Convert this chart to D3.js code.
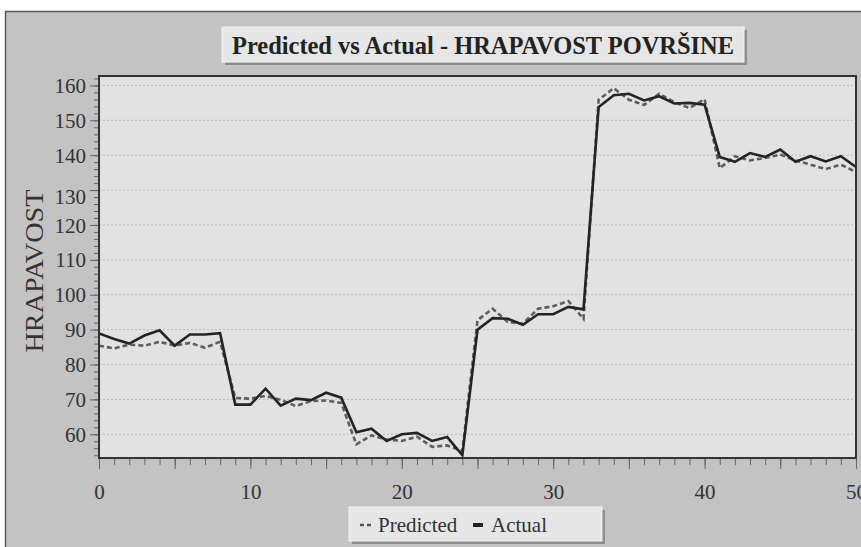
<!DOCTYPE html>
<html><head><meta charset="utf-8">
<script src="https://cdn.jsdelivr.net/npm/d3@7/dist/d3.min.js"></script>
<style>
html,body{margin:0;padding:0;background:#fff;}
svg{display:block;}
svg text{font-family:"Liberation Serif","Times New Roman",serif !important;}
</style></head><body>
<svg id="chart" width="861" height="547"></svg>
<script>
const xValues = d3.range(0, 51);
const actual = [88.9,87.3,86.0,88.3,89.8,85.4,88.6,88.6,89.0,68.5,
  68.5,73.1,68.2,70.2,69.8,71.9,70.5,60.6,61.6,58.1,
  60.0,60.4,58.1,59.2,54.0,90.0,93.3,93.1,91.4,94.4,
  94.4,96.5,95.8,153.8,157.2,157.6,155.7,156.9,154.8,155.0,
  154.5,139.5,138.1,140.6,139.5,141.6,138.1,139.7,138.2,139.7,136.6];
const predicted = [85.4,84.6,85.7,85.4,86.5,85.4,86.2,84.8,86.5,70.4,
  70.2,71.0,69.9,68.1,69.5,69.7,69.0,57.1,59.7,58.5,
  58.1,59.3,56.4,56.8,55.2,92.7,96.0,92.2,91.7,96.0,
  96.7,98.2,93.1,155.9,159.2,155.9,154.4,157.6,155.2,153.5,
  156.0,136.3,139.7,138.5,139.2,140.2,138.5,137.3,136.0,137.3,135.2];
const yTicks = [60,70,80,90,100,110,120,130,140,150,160];
const xTicks = [0,10,20,30,40,50];
const titleText = "Predicted vs Actual - HRAPAVOST POVRŠINE";
const yTitle = "HRAPAVOST";
const seriesNames = ["Predicted","Actual"];

const svg = d3.select("#chart");
const W = 861, H = 547;
const plot = {l:99, r:856, t:76, b:458};
const serif = "'Liberation Serif','Times New Roman',serif";

// outer panel
svg.append("rect").attr("x",5.5).attr("y",11.5).attr("width",W+20).attr("height",H+20)
  .attr("fill","#c3c3c3").attr("stroke","#5a5a5a").attr("stroke-width",1.5);

const x = d3.scaleLinear().domain([0,50]).range([plot.l, plot.r]);
const y = d3.scaleLinear().domain([53.2,162.7]).range([plot.b, plot.t]);

// plot area
svg.append("rect").attr("x",plot.l).attr("y",plot.t).attr("width",plot.r-plot.l).attr("height",plot.b-plot.t)
  .attr("fill","#e2e2e2");

// gridlines
svg.append("g").selectAll("line").data(yTicks).join("line")
  .attr("x1",plot.l).attr("x2",plot.r).attr("y1",d=>y(d)).attr("y2",d=>y(d))
  .attr("stroke","#b8b8b8").attr("stroke-width",1).attr("stroke-dasharray","2,2");

// lines
const line = d3.line().x((d,i)=>x(xValues[i])).y(d=>y(d));
svg.append("clipPath").attr("id","clp").append("rect")
  .attr("x",plot.l).attr("y",plot.t).attr("width",plot.r-plot.l).attr("height",plot.b-plot.t+1);
svg.append("path").datum(predicted).attr("d",line).attr("fill","none")
  .attr("stroke","#5e5e5e").attr("stroke-width",2.6).attr("stroke-dasharray","5,3")
  .attr("clip-path","url(#clp)");
svg.append("path").datum(actual).attr("d",line).attr("fill","none")
  .attr("stroke","#242424").attr("stroke-width",2.6)
  .attr("clip-path","url(#clp)");

// frame
svg.append("rect").attr("x",plot.l).attr("y",plot.t).attr("width",plot.r-plot.l).attr("height",plot.b-plot.t)
  .attr("fill","none").attr("stroke","#333").attr("stroke-width",2);

// x axis
const xAxisMinor = d3.axisBottom(x).tickValues(d3.range(0,51,1)).tickSize(6).tickFormat("");
const xAxisMajor = d3.axisBottom(x).tickValues(d3.range(0,51,5)).tickSize(10).tickFormat("");
const gxm = svg.append("g").attr("transform",`translate(0,${plot.b+1})`).call(xAxisMinor);
const gxM = svg.append("g").attr("transform",`translate(0,${plot.b+1})`).call(xAxisMajor);
[gxm,gxM].forEach(g=>{g.select(".domain").remove(); g.selectAll("line").attr("stroke","#666").attr("stroke-width",1);});
const xLab = d3.axisBottom(x).tickValues(xTicks).tickSize(0).tickPadding(0);
const gxl = svg.append("g").attr("transform",`translate(0,${plot.b})`).call(xLab);
gxl.select(".domain").remove();
gxl.selectAll("text").attr("font-size",21).attr("fill","#333").attr("dy",null).attr("y",41)
  .style("font-family",serif);

// y axis
const yAxisMinor = d3.axisLeft(y).tickValues(d3.range(54,163,2)).tickSize(4).tickFormat("");
const yAxisMajor = d3.axisLeft(y).tickValues(yTicks).tickSize(8).tickFormat("");
const gym = svg.append("g").attr("transform",`translate(${plot.l-1},0)`).call(yAxisMinor);
const gyM = svg.append("g").attr("transform",`translate(${plot.l-1},0)`).call(yAxisMajor);
[gym,gyM].forEach(g=>{g.select(".domain").remove(); g.selectAll("line").attr("stroke","#666").attr("stroke-width",1);});
const yLab = d3.axisLeft(y).tickValues(yTicks).tickSize(0).tickPadding(0);
const gyl = svg.append("g").attr("transform",`translate(${plot.l-13},0)`).call(yLab);
gyl.select(".domain").remove();
gyl.selectAll("text").attr("font-size",21).attr("fill","#333")
  .attr("dy", d => d===130 ? "0.66em" : "0.34em")
  .style("font-family",serif);

// y title
svg.append("text").attr("transform",`translate(43,271) rotate(-90)`)
  .attr("text-anchor","middle").attr("font-size",25).attr("fill","#333")
  .attr("textLength",163).attr("lengthAdjust","spacingAndGlyphs")
  .style("font-family",serif).text(yTitle);

// title box
const tb = {x:222, y:27, w:522, h:35};
svg.append("rect").attr("x",tb.x+3).attr("y",tb.y+3).attr("width",tb.w).attr("height",tb.h).attr("fill","#8e8e8e");
svg.append("rect").attr("x",tb.x).attr("y",tb.y).attr("width",tb.w).attr("height",tb.h).attr("fill","#e6e6e6")
  .attr("stroke","#f2f2f2").attr("stroke-width",1);
svg.append("text").attr("x",tb.x+tb.w/2).attr("y",tb.y+27).attr("text-anchor","middle")
  .attr("font-size",25).attr("font-weight","bold").attr("fill","#222")
  .attr("textLength",502).attr("lengthAdjust","spacingAndGlyphs")
  .style("font-family",serif).text(titleText);

// legend box
const lb = {x:349, y:507, w:253, h:34};
svg.append("rect").attr("x",lb.x+3).attr("y",lb.y+3).attr("width",lb.w).attr("height",lb.h).attr("fill","#8e8e8e");
svg.append("rect").attr("x",lb.x).attr("y",lb.y).attr("width",lb.w).attr("height",lb.h).attr("fill","#e6e6e6")
  .attr("stroke","#f2f2f2").attr("stroke-width",1);
const lg = svg.append("g");
lg.append("line").attr("x1",360).attr("x2",371).attr("y1",lb.y+18).attr("y2",lb.y+18)
  .attr("stroke","#555").attr("stroke-width",2.5).attr("stroke-dasharray","4,3");
lg.append("text").attr("x",378).attr("y",lb.y+25).attr("font-size",21).attr("fill","#333")
  .style("font-family",serif).text(seriesNames[0]);
lg.append("line").attr("x1",473).attr("x2",483).attr("y1",lb.y+18).attr("y2",lb.y+18)
  .attr("stroke","#222").attr("stroke-width",4);
lg.append("text").attr("x",491).attr("y",lb.y+25).attr("font-size",21).attr("fill","#333")
  .style("font-family",serif).text(seriesNames[1]);
</script></body></html>
